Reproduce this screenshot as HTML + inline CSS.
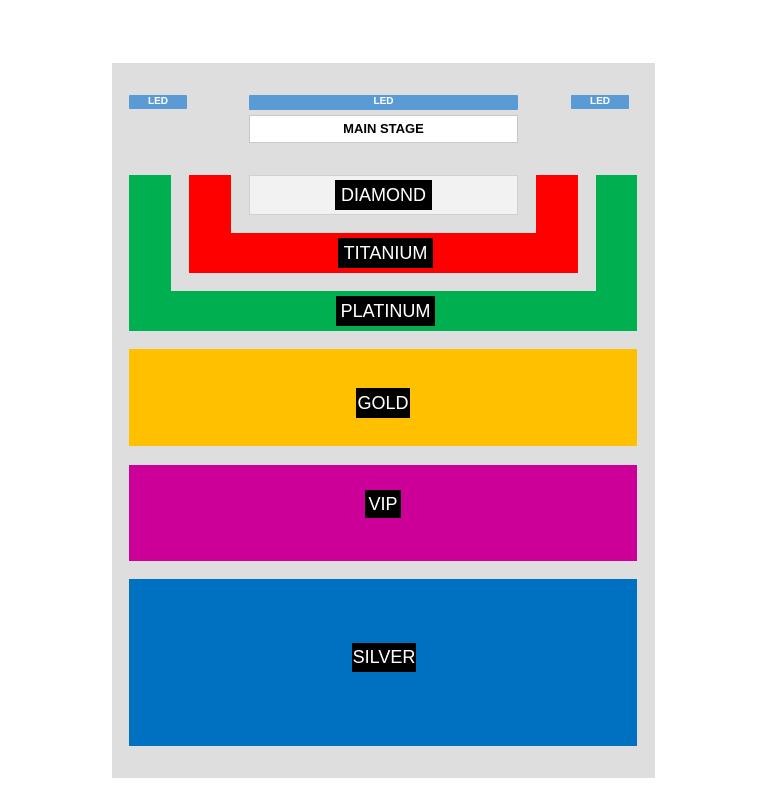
<!DOCTYPE html>
<html><head><style>
body{margin:0;width:768px;height:809px;background:#fff;position:relative;font-family:"Liberation Sans",sans-serif;overflow:hidden}
div{position:absolute;box-sizing:border-box}
.l{background:#000;color:#fff;font-size:18px;line-height:30px;text-align:center}
.led{background:#5b9bd5;color:#fff;font-size:10px;font-weight:bold;text-align:center;line-height:14px;border-radius:1px}
</style></head><body>
<div style="left:112px;top:63px;width:543px;height:715px;background:#dedede"></div>
<div class="led" style="left:129px;top:95px;width:58px;height:14px">LED</div>
<div class="led" style="left:571px;top:95px;width:58px;height:14px">LED</div>
<div class="led" style="left:249px;top:95px;width:269px;height:15px">LED</div>
<div style="left:249px;top:115px;width:269px;height:28px;background:#fff;border:1px solid #c8c8c8;font-size:13px;font-weight:bold;text-align:center;line-height:26px">MAIN STAGE</div>
<div style="left:129px;top:175px;width:508px;height:156px;background:#00b050"></div>
<div style="left:171px;top:175px;width:425px;height:116px;background:#dedede"></div>
<div style="left:189px;top:175px;width:389px;height:98px;background:#ff0000"></div>
<div style="left:231px;top:175px;width:305px;height:58px;background:#dedede"></div>
<div style="left:249px;top:175px;width:269px;height:40px;background:#f2f2f2;border:1px solid #d0d0d0"></div>
<div class="l" style="left:335px;top:180px;width:97px">DIAMOND</div>
<div class="l" style="left:338px;top:238px;width:95px">TITANIUM</div>
<div class="l" style="left:336px;top:296px;width:99px">PLATINUM</div>
<div style="left:129px;top:349px;width:508px;height:97px;background:#ffc000"></div>
<div class="l" style="left:356px;top:388px;width:54px">GOLD</div>
<div style="left:129px;top:465px;width:508px;height:96px;background:#cc0099"></div>
<div class="l" style="left:365px;top:490px;width:36px;line-height:28px">VIP</div>
<div style="left:129px;top:579px;width:508px;height:167px;background:#0070c0"></div>
<div class="l" style="left:352px;top:643px;width:64px;line-height:29px">SILVER</div>
</body></html>
